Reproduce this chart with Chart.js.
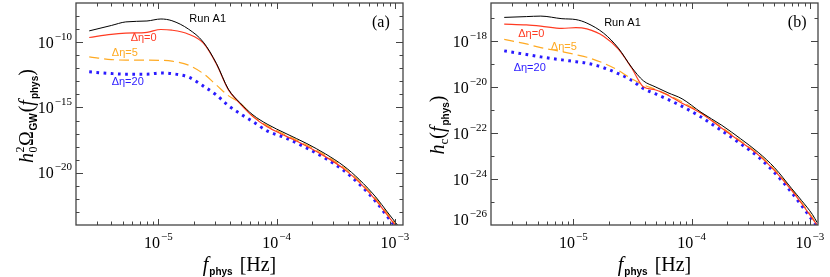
<!DOCTYPE html>
<html>
<head>
<meta charset="utf-8">
<script src="https://cdn.jsdelivr.net/npm/chart.js@4.4.0/dist/chart.umd.min.js"></script>
<style>
html, body { margin: 0; padding: 0; background: #fff; }
#wrap { display: flex; width: 830px; height: 277px; }
canvas { display: block; }
</style>
</head>
<body>
<div id="wrap">
  <canvas id="chartA" width="415" height="277"></canvas>
  <canvas id="chartB" width="415" height="277"></canvas>
</div>
<script>
// frequenze (Hz)
const freqA = [2.6e-6, 4e-6, 5.3e-6, 8e-6, 1.05e-5, 1.3e-5, 1.8e-5, 2.4e-5, 3.1e-5, 3.9e-5, 4.9e-5,
               6.3e-5, 8.3e-5, 1.2e-4, 1.8e-4, 2.6e-4, 3.7e-4, 5e-4, 7e-4, 8.5e-4, 1.05e-3];
const freqB = [2.6e-6, 4e-6, 5.3e-6, 8e-6, 1.05e-5, 1.3e-5, 1.8e-5, 2.4e-5, 3.1e-5, 3.9e-5, 4.9e-5,
               6.3e-5, 8.3e-5, 1.2e-4, 1.8e-4, 2.6e-4, 3.7e-4, 5e-4, 7e-4, 8.5e-4, 1.05e-3, 1.15e-3];

// pannello (a): h0^2 Omega_GW
const omegaRunA1 = [7.33e-10, 1.90e-9, 3.57e-9, 4.19e-9, 5.96e-9, 4.42e-9, 9.89e-10, 1.0e-10, 2.26e-12, 2.54e-14, 2.27e-15,
                    2.69e-16, 5.32e-17, 1.0e-17, 1.71e-18, 2.70e-19, 3.26e-20, 3.02e-21, 1.16e-22, 1.17e-23, 1.0e-24];
const omegaDeta0 = [2.29e-10, 3.95e-10, 4.89e-10, 5.71e-10, 9.38e-10, 8.28e-10, 4.09e-10, 8.38e-11, 2.07e-12, 2.32e-14, 1.97e-15,
                    2.0e-16, 3.31e-17, 6.43e-18, 1.07e-18, 1.65e-19, 1.99e-20, 1.85e-21, 6.84e-23, 6.92e-24, 5.89e-25];
const omegaDeta5 = [7.50e-12, 4.67e-12, 4.20e-12, 4.20e-12, 4.06e-12, 3.52e-12, 1.74e-12, 3.89e-13, 5.13e-14, 8.07e-15, 2.15e-15,
                    2.18e-16, 4.08e-17, 7.66e-18, 1.32e-18, 2.07e-19, 2.50e-20, 2.32e-21, 8.91e-23, 9.02e-24, 7.66e-25];
const omegaDeta20 = [5.35e-13, 3.96e-13, 3.56e-13, 3.56e-13, 4.40e-13, 3.89e-13, 2.10e-13, 4.31e-14, 8.81e-15, 1.39e-15, 3.38e-16,
                     8.26e-17, 1.61e-17, 4.52e-18, 7.76e-19, 1.22e-19, 1.47e-20, 1.36e-21, 5.25e-23, 5.31e-24, 4.51e-25];

// pannello (b): h_c
const hcRunA1 = [1.08e-17, 1.17e-17, 1.23e-17, 9.48e-18, 8.67e-18, 6.10e-18, 2.23e-18, 4.95e-19, 7.35e-20, 1.89e-20, 1.04e-20,
                 5.68e-21, 3.10e-21, 8.02e-22, 2.17e-22, 5.60e-23, 1.37e-23, 3.20e-24, 3.88e-25, 1.16e-25, 2.85e-26, 1.28e-26];
const hcDeta0 = [5.51e-18, 5.09e-18, 4.51e-18, 3.58e-18, 3.88e-18, 3.40e-18, 1.65e-18, 4.48e-19, 6.98e-20, 1.04e-20, 7.67e-21,
                 4.42e-21, 1.98e-21, 7.24e-22, 1.61e-22, 4.14e-23, 1.07e-23, 2.37e-24, 3.18e-25, 8.61e-26, 1.91e-26, 9.93e-27];
const hcDeta5 = [1.19e-18, 7.55e-19, 5.21e-19, 3.48e-19, 2.58e-19, 2.00e-19, 1.10e-19, 5.33e-20, 2.32e-20, 1.27e-20, 8.07e-21,
                 4.65e-21, 2.30e-21, 7.62e-22, 1.77e-22, 4.58e-23, 1.18e-23, 2.62e-24, 3.52e-25, 9.53e-26, 2.11e-26, 1.04e-26];
const hcDeta20 = [3.78e-19, 2.63e-19, 2.07e-19, 1.53e-19, 1.28e-19, 1.10e-19, 6.98e-20, 3.83e-20, 1.99e-20, 8.65e-21, 5.2e-21,
                  2.9e-21, 1.45e-21, 5.0e-22, 1.25e-22, 3.4e-23, 8.7e-24, 1.94e-24, 2.6e-25, 7.0e-26, 1.6e-26, 8.5e-27];

// tick etichettati
const xLabeledTicks = [1e-5, 1e-4, 1e-3];
const yLabeledTicksA = [1e-20, 1e-15, 1e-10];
const yLabeledTicksB = [1e-26, 1e-24, 1e-22, 1e-20, 1e-18];

const serif = '"Liberation Serif", "DejaVu Serif", serif';
const sans = '"Liberation Sans", "DejaVu Sans", sans-serif';
const colors = { run: '#000000', d0: '#ff3b22', d5: '#ffaa22', d20: '#2a1aff' };

function toPoints(freq, vals) {
    return freq.map((f, i) => ({ x: f, y: vals[i] }));
}

function makeDatasets(freq, run, d0, d5, d20) {
    const base = { pointRadius: 0, fill: false, cubicInterpolationMode: 'monotone', borderCapStyle: 'butt' };
    return [
        Object.assign({}, base, { label: 'Run A1', data: toPoints(freq, run), borderColor: colors.run, borderWidth: 1 }),
        Object.assign({}, base, { label: 'Δη=0', data: toPoints(freq, d0), borderColor: colors.d0, borderWidth: 1.2 }),
        Object.assign({}, base, { label: 'Δη=5', data: toPoints(freq, d5), borderColor: colors.d5, borderWidth: 1.2, borderDash: [10, 5] }),
        Object.assign({}, base, { label: 'Δη=20', data: toPoints(freq, d20), borderColor: colors.d20, borderWidth: 3, borderDash: [2.7, 4.5] })
    ];
}

// disegna "10^exp"
function drawPow(ctx, exp, x, base, align) {
    const es = '\u2212' + exp;
    ctx.font = '16px ' + serif;
    const w1 = ctx.measureText('10').width;
    ctx.font = '11px ' + serif;
    const w2 = ctx.measureText(es).width;
    const x0 = align === 'right' ? x - w1 - w2 - 1 : x - (w1 + w2 + 1) / 2;
    ctx.textAlign = 'left';
    ctx.textBaseline = 'alphabetic';
    ctx.font = '16px ' + serif;
    ctx.fillText('10', x0, base);
    ctx.font = '11px ' + serif;
    ctx.fillText(es, x0 + w1 + 1, base - 8);
}

// testo con pedici / apici
function partsWidth(ctx, parts) {
    let w = 0;
    parts.forEach(p => {
        ctx.font = p.f;
        let pw = ctx.measureText(p.t).width;
        if (p.t2) pw = Math.max(pw, ctx.measureText(p.t2).width);
        w += pw + (p.gap || 0);
    });
    return w;
}
function drawParts(ctx, parts, x, y) {
    let cx = x - partsWidth(ctx, parts) / 2;
    ctx.textAlign = 'left';
    ctx.textBaseline = 'alphabetic';
    parts.forEach(p => {
        ctx.font = p.f;
        let pw = ctx.measureText(p.t).width;
        ctx.fillText(p.t, cx, y + (p.dy || 0));
        if (p.t2) {
            ctx.fillText(p.t2, cx, y + p.dy2);
            pw = Math.max(pw, ctx.measureText(p.t2).width);
        }
        cx += pw + (p.gap || 0);
    });
}

const fTitle = 'italic 20px ' + serif;
const mainTitle = '20px ' + serif;
const subFont = 'bold 10px ' + sans;
const xTitleParts = [
    { t: 'f', f: fTitle, gap: 1 },
    { t: 'phys', f: subFont, dy: 4, gap: 7 },
    { t: '[Hz]', f: mainTitle }
];
const yTitlePartsA = [
    { t: 'h', f: fTitle, gap: 0.5 },
    { t: '0', f: '12px ' + serif, dy: 4, t2: '2', dy2: -9, gap: 0.5 },
    { t: 'Ω', f: mainTitle, gap: 0.5 },
    { t: 'GW', f: subFont, dy: 4, gap: 1 },
    { t: '(', f: mainTitle },
    { t: 'f', f: fTitle, gap: 1 },
    { t: 'phys', f: subFont, dy: 5 },
    { t: ')', f: mainTitle }
];
const yTitlePartsB = [
    { t: 'h', f: fTitle },
    { t: 'c', f: '13px ' + serif, dy: 4 },
    { t: '(', f: mainTitle },
    { t: 'f', f: fTitle, gap: 1 },
    { t: 'phys', f: subFont, dy: 5 },
    { t: ')', f: mainTitle }
];

function panelPlugin(cfg) {
    return {
        id: 'panel',
        afterDatasetsDraw(chart) {
            const ctx = chart.ctx, a = chart.chartArea;
            const xs = chart.scales.x, ys = chart.scales.y;
            ctx.save();
            ctx.fillStyle = '#000';
            ctx.strokeStyle = '#444';

            // tick dell'asse x (interni, sopra e sotto)
            ctx.lineWidth = 1;
            ctx.beginPath();
            for (let e = -6; e <= -3; e++) {
                for (let k = 1; k <= 9; k++) {
                    const v = k * Math.pow(10, e);
                    if (v <= xs.min || v >= xs.max) continue;
                    const px = Math.round(xs.getPixelForValue(v)) + 0.5;
                    const len = k === 1 ? 6 : 3.5;
                    ctx.moveTo(px, a.bottom); ctx.lineTo(px, a.bottom - len);
                    ctx.moveTo(px, a.top); ctx.lineTo(px, a.top + len);
                }
            }
            // tick dell'asse y (ogni decade)
            const eMin = Math.round(Math.log10(ys.min)), eMax = Math.round(Math.log10(ys.max));
            for (let e = eMin; e <= eMax; e++) {
                const v = Math.pow(10, e);
                if (v <= ys.min * 1.01 || v >= ys.max * 0.99) continue;
                const py = Math.round(ys.getPixelForValue(v)) + 0.5;
                const len = cfg.yLabels.some(t => Math.abs(Math.log10(t) - e) < 0.01) ? 7 : 3.5;
                ctx.moveTo(a.left, py); ctx.lineTo(a.left + len, py);
                ctx.moveTo(a.right, py); ctx.lineTo(a.right - len, py);
            }
            ctx.stroke();

            // cornice
            ctx.lineWidth = 1.3;
            ctx.strokeRect(a.left, a.top, a.right - a.left, a.bottom - a.top);

            // etichette dei tick
            xLabeledTicks.forEach(v => {
                const px = xs.getPixelForValue(v);
                drawPow(ctx, Math.round(-Math.log10(v)), px, a.bottom + 23, 'center');
            });
            cfg.yLabels.forEach(v => {
                let py = ys.getPixelForValue(v);
                py = Math.min(py, a.bottom - 6);
                drawPow(ctx, Math.round(-Math.log10(v)), a.left - 4, py + 5.5, 'right');
            });

            // titoli degli assi
            drawParts(ctx, xTitleParts, (a.left + a.right) / 2, 271);
            ctx.save();
            ctx.translate(cfg.yTitleX, cfg.yTitleY);
            ctx.rotate(-Math.PI / 2);
            drawParts(ctx, cfg.yTitle, 0, 0);
            ctx.restore();

            // annotazioni
            ctx.textAlign = 'center';
            ctx.textBaseline = 'middle';
            cfg.notes.forEach(n => {
                ctx.fillStyle = n.color;
                ctx.font = n.font || ('11px ' + sans);
                ctx.fillText(n.text, xs.getPixelForValue(n.f), ys.getPixelForValue(n.v));
            });
            ctx.restore();
        }
    };
}

function createPanel(canvasId, freq, series, yMin, yMax, cfg) {
    const ctx = document.getElementById(canvasId).getContext('2d');
    return new Chart(ctx, {
        type: 'line',
        data: { datasets: makeDatasets(freq, ...series) },
        options: {
            responsive: false,
            animation: false,
            devicePixelRatio: 1,
            layout: { padding: { top: 3, right: 12, left: 0, bottom: 0 } },
            plugins: { legend: { display: false }, tooltip: { enabled: false } },
            scales: {
                x: {
                    type: 'logarithmic', min: 2.01e-6, max: 1.17e-3,
                    ticks: { display: false }, grid: { display: false }, border: { display: false },
                    afterFit: s => { s.height = 52; }
                },
                y: {
                    type: 'logarithmic', min: yMin, max: yMax,
                    ticks: { display: false }, grid: { display: false }, border: { display: false },
                    afterFit: s => { s.width = 76; }
                }
            }
        },
        plugins: [panelPlugin(cfg)]
    });
}

createPanel('chartA', freqA, [omegaRunA1, omegaDeta0, omegaDeta5, omegaDeta20], 1e-24, 1e-7, {
    yLabels: yLabeledTicksA,
    yTitle: yTitlePartsA, yTitleX: 33, yTitleY: 116,
    notes: [
        { text: 'Run A1', f: 2.61e-5, v: 5.7e-9, color: colors.run },
        { text: 'Δη=0', f: 7.5e-6, v: 2.0e-10, color: colors.d0 },
        { text: 'Δη=5', f: 5.2e-6, v: 1.4e-11, color: colors.d5 },
        { text: 'Δη=20', f: 5.5e-6, v: 9.5e-14, color: colors.d20 },
        { text: '(a)', f: 7.6e-4, v: 3.1e-9, color: '#000', font: '16px ' + serif }
    ]
});

createPanel('chartB', freqB, [hcRunA1, hcDeta0, hcDeta5, hcDeta20], 1e-26, 4.57e-17, {
    yLabels: yLabeledTicksB,
    yTitle: yTitlePartsB, yTitleX: 29, yTitleY: 125,
    notes: [
        { text: 'Run A1', f: 2.6e-5, v: 6.4e-18, color: colors.run },
        { text: 'Δη=0', f: 4.4e-6, v: 2.0e-18, color: colors.d0 },
        { text: 'Δη=5', f: 8.3e-6, v: 5.75e-19, color: colors.d5 },
        { text: 'Δη=20', f: 4.27e-6, v: 6.6e-20, color: colors.d20 },
        { text: '(b)', f: 7.8e-4, v: 6.1e-18, color: '#000', font: '16px ' + serif }
    ]
});
</script>
</body>
</html>
